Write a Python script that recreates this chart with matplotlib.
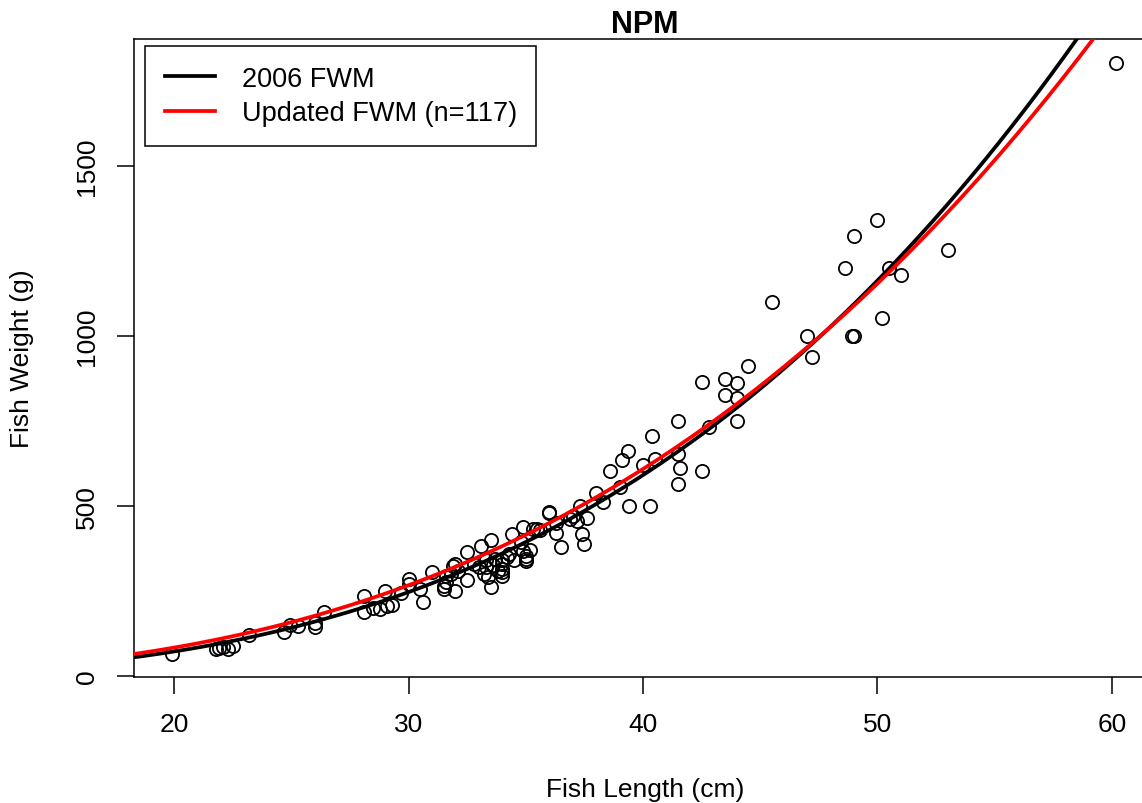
import numpy as np
import matplotlib
matplotlib.use("Agg")
import matplotlib.pyplot as plt

plt.rcParams['font.family'] = ['Liberation Sans', 'DejaVu Sans']

# fish length (cm) and weight (g)
length_cm = [19.9, 21.8, 21.9, 22.1, 22.3, 22.5, 23.2, 24.7, 24.95, 25.3,
             26.0, 26.0, 26.4, 28.1, 28.1, 28.5, 28.8, 29.0, 29.1, 29.3,
             29.7, 30.0, 30.0, 30.5, 30.6, 31.0, 31.5, 31.6, 31.6, 31.8,
             31.9, 32.0, 32.0, 32.5, 32.5, 33.0, 33.1, 33.2, 33.3, 33.4,
             33.5, 33.5, 33.6, 33.7, 34.0, 34.0, 34.0, 34.0, 34.2, 34.4,
             34.5, 34.9, 34.9, 35.0, 35.0, 35.0, 35.3, 35.5, 36.0, 36.0,
             36.3, 36.5, 36.9, 37.3, 37.2, 37.4, 37.5, 37.6, 38.0, 38.3,
             38.6, 39.0, 39.1, 39.35, 39.4, 40.0, 40.3, 40.4, 40.5, 41.5,
             41.5, 41.6, 41.5, 42.5, 42.5, 42.8, 43.5, 43.5, 44.0, 44.0,
             44.0, 44.5, 45.5, 47.0, 47.2, 48.6, 48.9, 49.0, 49.0, 50.0,
             50.2, 50.5, 51.0, 53.0, 60.2,
             31.5, 32.1, 32.8, 33.3, 33.8, 34.0, 34.3, 34.8, 35.2, 35.6,
             36.3, 37.0]
weight_g = [65, 80, 82, 84, 80, 88, 120, 130, 150, 147,
            145, 155, 188, 235, 188, 200, 197, 250, 205, 210,
            245, 285, 270, 255, 218, 305, 265, 275, 294, 300,
            322, 330, 250, 365, 282, 320, 382, 300, 340, 290,
            400, 262, 325, 345, 315, 295, 330, 305, 350, 418,
            340, 438, 368, 353, 338, 345, 432, 432, 482, 478,
            420, 379, 462, 500, 455, 418, 388, 465, 538, 512,
            603, 556, 635, 662, 500, 620, 500, 706, 638, 750,
            653, 612, 565, 603, 865, 732, 874, 826, 862, 818,
            750, 912, 1100, 1000, 938, 1200, 1000, 1000, 1294, 1341,
            1053, 1200, 1180, 1253, 1803,
            255, 310, 330, 320, 310, 340, 360, 395, 370, 430,
            450, 470]

# weight-length models W = a * L^b
fwm_2006 = (0.00811, 3.035)
fwm_new = (0.01553, 2.867)

x_ticks = [20, 30, 40, 50, 60]
y_ticks = [0, 500, 1000, 1500]

fig = plt.figure(figsize=(11.42, 8.04), dpi=100)
ax = fig.add_axes([134 / 1142, 1 - 678 / 804, 1020 / 1142, 638 / 804])

ax.plot(length_cm, weight_g, 'o', mfc='none', mec='black', ms=9.5, mew=1.3,
        zorder=2)

xs = np.linspace(18.0, 62.0, 400)
ax.plot(xs, fwm_2006[0] * xs ** fwm_2006[1], color='black', lw=2.7,
        label='2006 FWM', zorder=3)
ax.plot(xs, fwm_new[0] * xs ** fwm_new[1], color='red', lw=2.7,
        label='Updated FWM (n=117)', zorder=4)

ax.set_xlim(18.29, 61.8)
ax.set_ylim(-3, 1873)
ax.set_xticks(x_ticks)
ax.set_yticks(y_ticks)
ax.tick_params(direction='out', length=12, width=1.1, labelsize=19, pad=13)
for lab in ax.get_yticklabels():
    lab.set_rotation(90)
    lab.set_va('center')
for sp in ax.spines.values():
    sp.set_linewidth(1.1)

fig.text(645 / 1142, 1 - 790 / 804, 'Fish Length (cm)', ha='center',
         va='center', fontsize=19)
fig.text(22 / 1142, 1 - 359 / 804, 'Fish Weight (g)', ha='center',
         va='center', rotation=90, fontsize=19)
fig.text(645 / 1142, 1 - 25 / 804, 'NPM', ha='center', va='center',
         fontsize=22, fontweight='bold')

leg = ax.legend(loc='upper left', bbox_to_anchor=(0.0108, 0.989),
                borderaxespad=0, fontsize=19.5, handlelength=1.85,
                handletextpad=1.0, borderpad=0.72, labelspacing=0.32,
                fancybox=False, framealpha=1, edgecolor='black')
leg.get_frame().set_linewidth(1.1)

fig.savefig('out.png', dpi=100)
